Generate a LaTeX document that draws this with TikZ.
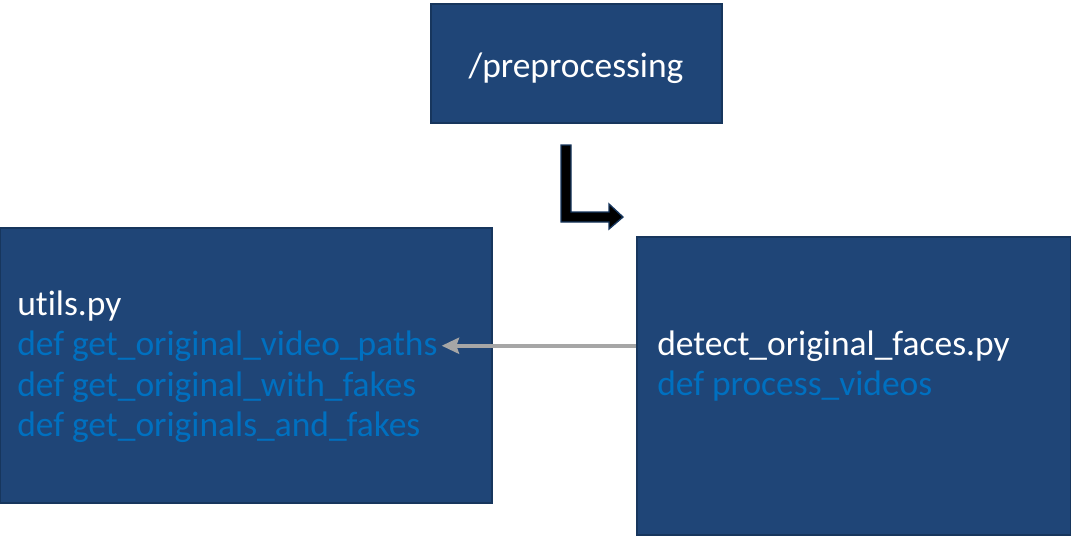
\documentclass[tikz,border=0pt]{standalone}
\usepackage{fontspec}
\setmainfont{Carlito}[Ligatures=NoCommon]
\usetikzlibrary{arrows.meta, positioning}
\definecolor{boxFill}{HTML}{1F4577}
\definecolor{boxLine}{HTML}{17365D}
\definecolor{codeBlue}{HTML}{0070C0}
\definecolor{linkGray}{HTML}{A6A6A6}
\tikzset{
    folderBox/.style={rectangle, draw=boxLine, line width=1.2pt, fill=boxFill, inner sep=0pt, text=white, font=\fontsize{26.6}{32}\selectfont},
    fileName/.style={anchor=base west, inner sep=0pt, text=white, font=\fontsize{26.6}{32}\selectfont},
    funcName/.style={anchor=base west, inner sep=0pt, text=codeBlue, font=\fontsize{26.6}{32}\selectfont},
    callLink/.style={-{Stealth[length=13pt, width=12pt, inset=2pt]}, draw=linkGray, line width=3pt},
    bentArrow/.style={draw=boxLine, line width=1pt, fill=black},
}

\begin{document}
\begin{tikzpicture}[x=0.75pt, y=-0.75pt]
        \useasboundingbox (0,0) rectangle (1071,537);

        \node[folderBox, minimum width=218.25pt, minimum height=89.25pt] (prep) at (576.5, 63.5) {};
        \node[folderBox, minimum width=369pt, minimum height=206.25pt] (lbox) at (246, 365.5) {};
        \node[folderBox, minimum width=325.5pt, minimum height=223.5pt] (rbox) at (854, 386) {};

        \node[fileName, anchor=base] (preptext) at (576, 77) {/preprocessing};

        % utils.py
        \node[fileName] (utils) at (17, 315) {utils.py};
        \node[funcName] (getvideo) at (17, 355) {def get\_original\_video\_paths};
        \node[funcName] (getfakes) at (17, 396) {def get\_original\_with\_fakes};
        \node[funcName] (getboth) at (17, 436) {def get\_originals\_and\_fakes};

        % detect_original_faces.py
        \node[fileName] (detect) at (657, 355) {detect\_original\_faces.py};
        \node[funcName] (process) at (657, 395) {def process\_videos};

        \draw[callLink] (detect.west -| rbox.west) -- ([xshift=3pt]getvideo.east);

        % bent arrow under /preprocessing
        \draw[bentArrow] (561,145) -- (571,145) -- (571,212) -- (609,212) -- (609,204)
            -- (623,217) -- (609,229) -- (609,222) -- (561,222) -- cycle;

    \end{tikzpicture}
\end{document}
